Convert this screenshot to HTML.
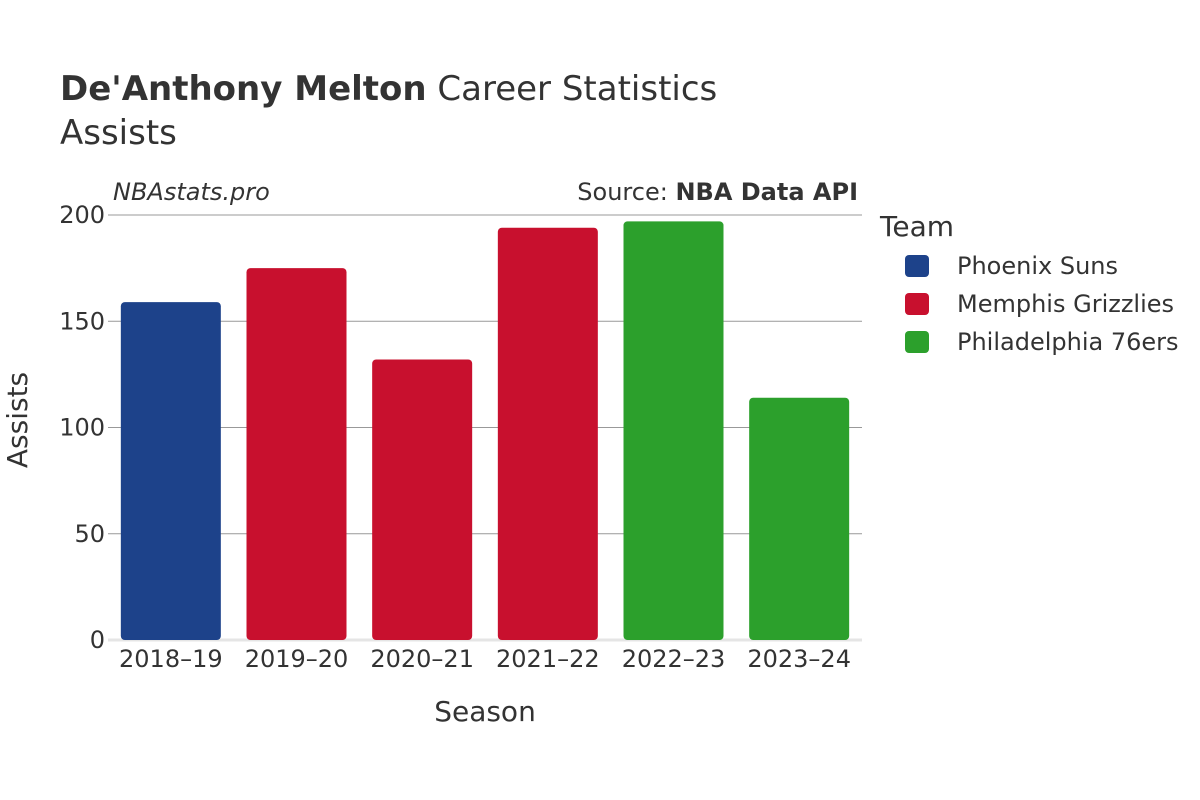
<!DOCTYPE html>
<html><head><meta charset="utf-8">
<style>
html,body{margin:0;padding:0;background:#fff;}
svg{display:block;font-family:"DejaVu Sans","Liberation Sans",sans-serif;}
</style></head>
<body>
<svg id="chart" width="1200" height="800" viewBox="0 0 1200 800">
  <text x="60" y="100" font-size="34" fill="#333"><tspan font-weight="bold">De'Anthony Melton</tspan> Career Statistics</text>
  <text x="60" y="144" font-size="34" fill="#333">Assists</text>
  <text x="113" y="200" font-size="24" font-style="italic" fill="#333">NBAstats.pro</text>
  <text x="858" y="200" font-size="24" fill="#333" text-anchor="end">Source: <tspan font-weight="bold">NBA Data API</tspan></text>
  <g id="grid"></g>
  <g id="bars"></g>
  <g id="yticks"></g>
  <g id="xticks"></g>
  <text x="485" y="721" font-size="28" fill="#333" text-anchor="middle">Season</text>
  <text transform="translate(27,420) rotate(-90)" font-size="28" fill="#333" text-anchor="middle">Assists</text>
  <g>
    <text x="880" y="236" font-size="28" fill="#333">Team</text>
    <g id="legend"></g>
  </g>
</svg>
<script>
const seasons = ["2018–19","2019–20","2020–21","2021–22","2022–23","2023–24"];
const assists = [159, 175, 132, 194, 197, 114];
const teams = ["Phoenix Suns","Memphis Grizzlies","Memphis Grizzlies","Memphis Grizzlies","Philadelphia 76ers","Philadelphia 76ers"];
const legendTeams = ["Phoenix Suns","Memphis Grizzlies","Philadelphia 76ers"];
const yTicks = [0, 50, 100, 150, 200];
const colors = {"Phoenix Suns":"#1d428a","Memphis Grizzlies":"#c8102e","Philadelphia 76ers":"#2ca02c"};

const NS = "http://www.w3.org/2000/svg";
const plotL = 108, plotR = 862, plotT = 215, plotB = 640, yMax = 200;
const y = v => plotB - v / yMax * (plotB - plotT);
const band = (plotR - plotL) / seasons.length;
const x = i => plotL + band * (i + 0.5);
function mk(tag, attrs, parent){ const e = document.createElementNS(NS, tag); for (const k in attrs) e.setAttribute(k, attrs[k]); parent.appendChild(e); return e; }

const grid = document.getElementById('grid');
const yt = document.getElementById('yticks');
yTicks.forEach(t => {
  const l = mk('line', {x1: plotL, x2: plotR, y1: y(t), y2: y(t), stroke: t === 0 ? '#e5e5e5' : '#999', 'stroke-width': t === 0 ? 3 : 1}, grid);
  
  
  const tx = mk('text', {x: 105, y: y(t) + 8, 'font-size': 24, fill: '#333', 'text-anchor': 'end'}, yt);
  tx.textContent = t;
  
  
});

const bars = document.getElementById('bars');
const xt = document.getElementById('xticks');
const bw = 100;
seasons.forEach((s, i) => {
  const top = y(assists[i]);
  const r = mk('rect', {x: x(i) - bw / 2, y: top, width: bw, height: plotB - top, rx: 4, fill: colors[teams[i]]}, bars);
  
  
  const tx = mk('text', {x: x(i), y: 667, 'font-size': 24, fill: '#333', 'text-anchor': 'middle'}, xt);
  tx.textContent = s;
  
  
});

const lg = document.getElementById('legend');
legendTeams.forEach((t, i) => {
  const cy = 266 + i * 38;
  const g = mk('g', {}, lg);
  
  
  mk('rect', {x: 905, y: cy - 11, width: 24, height: 22, rx: 4, fill: colors[t]}, g);
  const tx = mk('text', {x: 957, y: cy + 8, 'font-size': 24, fill: '#333'}, g);
  tx.textContent = t;
});
</script>
</body></html>
